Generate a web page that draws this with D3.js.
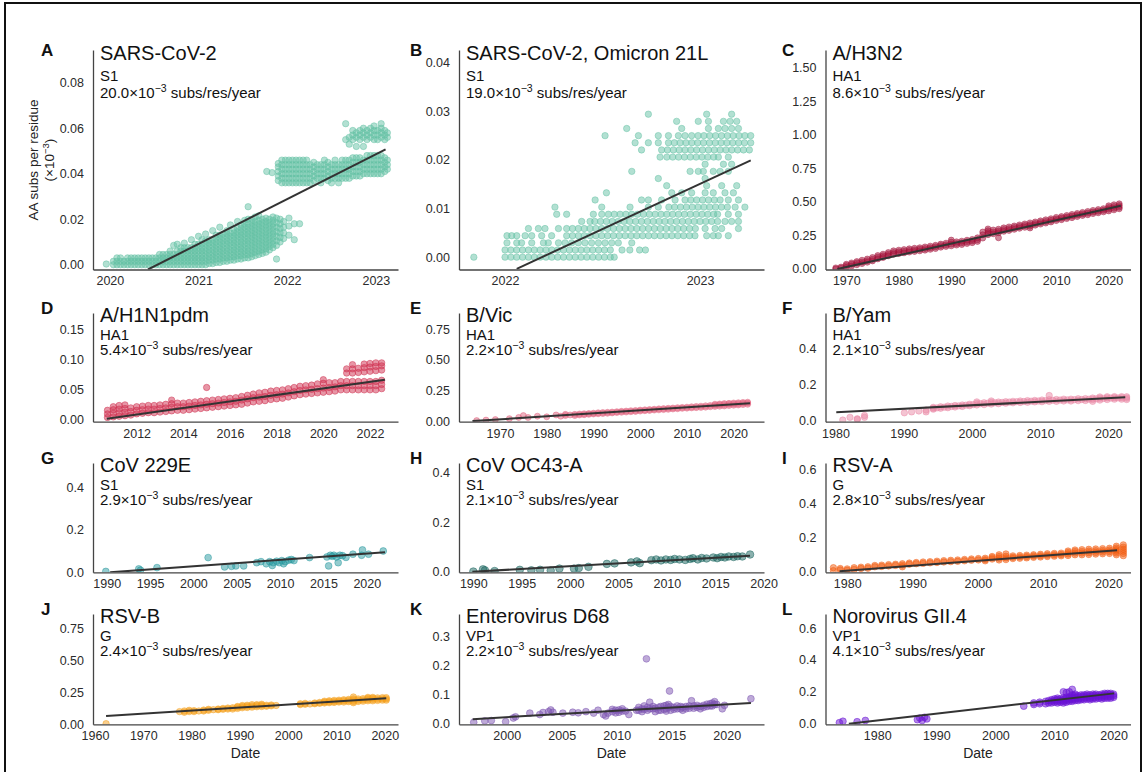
<!DOCTYPE html>
<html>
<head>
<meta charset="utf-8">
<script src="https://cdn.jsdelivr.net/npm/d3@7"></script>
<style>
  body { margin: 0; background: #fff; }
  svg text { font-family: "Liberation Sans", Arial, sans-serif; }
  .axis path { stroke: #444; stroke-width: 1.3; }
  .axis text { fill: #2b2b2b; }
</style>
</head>
<body>
<div id="chart"></div>
<script>
const width = 1147;
const height = 772;

// ---- data ----
// columns: [date, value, value, ...]
const aPts = [
  [2019.96,0.0003],[2020.04,0,0.0015],[2020.08,0,0.0015,0.003],[2020.12,0,0.0015,0.003],[2020.16,0,0.0015],
  [2020.2,0,0.0015,0.003],[2020.24,0,0.0015,0.003],[2020.28,0,0.0015,0.003],[2020.32,0,0.0015,0.003],
  [2020.36,0,0.0015,0.003],[2020.4,0,0.0015,0.003],[2020.44,0,0.0015,0.003],[2020.48,0,0.0015,0.003],
  [2020.52,0,0.0015,0.003],[2020.56,0,0.0015,0.003,0.0045],[2020.6,0,0.0015,0.003,0.0045],
  [2020.64,0,0.0015,0.003,0.0045],[2020.68,0,0.0015,0.003,0.0045,0.006],[2020.72,0,0.0015,0.003,0.0045,0.0085],
  [2020.76,0,0.0015,0.003,0.0045,0.006,0.009],[2020.8,0,0.0015,0.003,0.0045,0.006,0.0075],
  [2020.84,0,0.0015,0.003,0.0045,0.006,0.0075,0.0095],[2020.88,0,0.0015,0.003,0.0045,0.006,0.0075],
  [2020.92,0,0.0015,0.003,0.0045,0.006,0.0075,0.011],[2020.96,0,0.0015,0.003,0.0045,0.006,0.0075,0.009],
  [2021.0,0,0.0015,0.003,0.0045,0.006,0.0075,0.009,0.0125],[2021.04,0,0.0015,0.003,0.0045,0.006,0.0075,0.009,0.011],
  [2021.08,0,0.0015,0.003,0.0045,0.006,0.0075,0.009,0.0105,0.0135],
  [2021.12,0.0005,0.002,0.0035,0.005,0.0065,0.008,0.0095,0.011],
  [2021.16,0.0005,0.002,0.0035,0.005,0.0065,0.008,0.0095,0.011,0.015],
  [2021.2,0.001,0.0025,0.004,0.0055,0.007,0.0085,0.01,0.0115,0.013],
  [2021.24,0.001,0.0025,0.004,0.0055,0.007,0.0085,0.01,0.0115,0.013,0.0165],
  [2021.28,0.0015,0.003,0.0045,0.006,0.0075,0.009,0.0105,0.012,0.0135],
  [2021.32,0.0015,0.003,0.0045,0.006,0.0075,0.009,0.0105,0.012,0.0135,0.015],
  [2021.36,0.002,0.0035,0.005,0.0065,0.008,0.0095,0.011,0.0125,0.014,0.0175],
  [2021.4,0.002,0.0035,0.005,0.0065,0.008,0.0095,0.011,0.0125,0.014,0.0155],
  [2021.44,0.0025,0.004,0.0055,0.007,0.0085,0.01,0.0115,0.013,0.0145,0.016,0.019],
  [2021.48,0.0025,0.004,0.0055,0.007,0.0085,0.01,0.0115,0.013,0.0145,0.016,0.0175],
  [2021.52,0.003,0.0045,0.006,0.0075,0.009,0.0105,0.012,0.0135,0.015,0.0165,0.018,0.0195],
  [2021.56,0.003,0.0045,0.006,0.0075,0.009,0.0105,0.012,0.0135,0.015,0.0165,0.018,0.02,0.0255],
  [2021.6,0.0035,0.005,0.0065,0.008,0.0095,0.011,0.0125,0.014,0.0155,0.017,0.0185,0.02],
  [2021.64,0.004,0.0055,0.007,0.0085,0.01,0.0115,0.013,0.0145,0.016,0.0175,0.019,0.021],
  [2021.68,0.0045,0.006,0.0075,0.009,0.0105,0.012,0.0135,0.015,0.0165,0.018,0.0195,0.0215],
  [2021.72,0.005,0.0065,0.008,0.0095,0.011,0.0125,0.014,0.0155,0.017,0.0185,0.02],
  [2021.76,0.0055,0.007,0.0085,0.01,0.0115,0.013,0.0145,0.016,0.0175,0.019,0.0205],
  [2021.8,0.0065,0.008,0.0095,0.011,0.0125,0.014,0.0155,0.017,0.0185,0.02],
  [2021.84,0.0075,0.009,0.0105,0.012,0.0135,0.015,0.0165,0.018,0.0195,0.021],
  [2021.88,0.0025,0.0085,0.0105,0.0125,0.0145,0.0165,0.0185,0.0205],
  [2021.92,0.01,0.012,0.014,0.016,0.018,0.02],[2021.96,0.0115,0.014,0.0165,0.019],
  [2022.02,0.013,0.017,0.0205],[2022.08,0.011,0.018],[2022.14,0.018],
  [2021.77,0.041],[2021.83,0.0405],
  [2021.9,0.037,0.039,0.041,0.043,0.0445],[2021.94,0.036,0.038,0.04,0.042,0.044,0.046],
  [2021.98,0.036,0.038,0.04,0.042,0.044,0.046],[2022.02,0.036,0.038,0.04,0.042,0.044,0.046],
  [2022.06,0.036,0.038,0.04,0.042,0.044,0.046],[2022.1,0.036,0.038,0.04,0.042,0.044,0.046],
  [2022.14,0.036,0.038,0.04,0.042,0.044,0.046],[2022.18,0.036,0.038,0.04,0.042,0.044,0.046],
  [2022.22,0.036,0.038,0.04,0.042,0.044,0.046],[2022.26,0.036,0.038,0.04,0.042,0.044],
  [2022.3,0.037,0.039,0.041,0.043,0.045],[2022.34,0.038,0.04,0.042,0.044],
  [2022.38,0.036,0.038,0.04,0.042,0.044],[2022.42,0.038,0.04,0.042,0.044,0.046],
  [2022.46,0.037,0.039,0.041,0.043,0.045],[2022.5,0.036,0.038,0.04,0.042,0.044],
  [2022.54,0.038,0.04,0.042,0.044,0.046],[2022.58,0.036,0.038,0.04,0.042,0.044],
  [2022.62,0.038,0.04,0.042,0.044,0.046],[2022.66,0.038,0.04,0.042,0.044,0.046,0.055,0.062],
  [2022.7,0.038,0.04,0.042,0.044,0.046,0.053,0.056],[2022.74,0.039,0.041,0.043,0.045,0.047,0.055,0.057,0.059],
  [2022.78,0.039,0.041,0.043,0.045,0.047,0.052,0.056,0.058],[2022.82,0.039,0.041,0.043,0.045,0.047,0.055,0.057,0.059],
  [2022.86,0.04,0.042,0.044,0.046,0.052,0.056,0.058,0.06],[2022.9,0.04,0.042,0.044,0.046,0.048,0.055,0.057,0.059],
  [2022.94,0.04,0.042,0.044,0.046,0.048,0.056,0.058,0.06],[2022.98,0.04,0.042,0.044,0.046,0.048,0.055,0.057,0.059,0.061],
  [2023.02,0.04,0.042,0.044,0.046,0.048,0.055,0.057,0.059],[2023.06,0.04,0.042,0.044,0.046,0.048,0.056,0.058,0.06,0.062],
  [2023.1,0.041,0.043,0.045,0.047,0.055,0.057,0.059],[2023.13,0.042,0.044,0.046,0.056,0.058]
];
// rows: [value, date, date, ...]
const bRows = [
  [0,2021.84,2022.0,2022.03,2022.06,2022.09,2022.12,2022.15,2022.18,2022.21,2022.24,2022.27,2022.3,2022.33,2022.36,2022.39,2022.42,2022.45,2022.48,2022.51,2022.54,2022.56],
  [0.00147,2022.0,2022.03,2022.06,2022.09,2022.12,2022.15,2022.18,2022.21,2022.24,2022.27,2022.3,2022.33,2022.36,2022.39,2022.42,2022.45,2022.48,2022.51,2022.54,2022.6,2022.64,2022.69,2022.72],
  [0.00294,2022.01,2022.06,2022.085,2022.137,2022.197,2022.222,2022.274,2022.308,2022.342,2022.376,2022.41,2022.444,2022.479,2022.513,2022.547,2022.581,2022.65],
  [0.00441,2022.01,2022.034,2022.06,2022.103,2022.137,2022.188,2022.239,2022.316,2022.346,2022.376,2022.406,2022.436,2022.466,2022.496,2022.526,2022.556,2022.586,2022.616,2022.646,2022.676,2022.706,2022.736,2022.766,2022.796,2022.826,2022.856,2022.886,2022.916,2022.946,2022.974,2023.034,2023.068,2023.094,2023.145],
  [0.00588,2022.12,2022.171,2022.205,2022.274,2022.316,2022.346,2022.376,2022.406,2022.436,2022.466,2022.496,2022.526,2022.556,2022.586,2022.616,2022.646,2022.676,2022.706,2022.736,2022.766,2022.796,2022.826,2022.856,2022.886,2022.916,2022.946,2022.976,2023.026,2023.077,2023.111,2023.197],
  [0.00735,2022.393,2022.436,2022.46,2022.49,2022.52,2022.55,2022.58,2022.61,2022.64,2022.67,2022.7,2022.73,2022.76,2022.79,2022.82,2022.85,2022.88,2022.91,2022.94,2022.97,2023.0,2023.03,2023.06,2023.09,2023.128,2023.162,2023.197],
  [0.00882,2022.265,2022.316,2022.453,2022.496,2022.53,2022.56,2022.59,2022.62,2022.65,2022.68,2022.71,2022.74,2022.77,2022.8,2022.83,2022.86,2022.89,2022.92,2022.95,2022.98,2023.01,2023.04,2023.07,2023.09,2023.145,2023.197],
  [0.01029,2022.256,2022.496,2022.641,2022.735,2022.786,2022.84,2022.87,2022.9,2022.93,2022.96,2022.99,2023.02,2023.05,2023.08,2023.11,2023.14,2023.18,2023.23],
  [0.01176,2022.462,2022.7,2022.735,2022.803,2022.872,2022.923,2022.953,2022.983,2023.013,2023.043,2023.073,2023.103,2023.145,2023.197],
  [0.01323,2022.52,2022.855,2022.906,2022.957,2023.026,2023.068,2023.128,2023.171],
  [0.0147,2022.829,2023.034,2023.111,2023.188],
  [0.01617,2022.786,2023.026],
  [0.01764,2022.65,2022.949,2022.991,2023.017,2023.068,2023.103,2023.145],
  [0.01911,2023.026,2023.12,2023.162],
  [0.02058,2022.795,2022.83,2022.86,2022.89,2022.92,2022.95,2022.98,2023.01,2023.04,2023.07,2023.094,2023.145],
  [0.02205,2022.7,2022.803,2022.833,2022.863,2022.893,2022.923,2022.953,2022.983,2023.013,2023.043,2023.073,2023.103,2023.133,2023.163,2023.193,2023.223,2023.253],
  [0.02352,2022.667,2022.735,2022.786,2022.838,2022.868,2022.898,2022.928,2022.958,2022.988,2023.018,2023.048,2023.078,2023.108,2023.138,2023.168,2023.198,2023.228,2023.26],
  [0.02499,2022.513,2022.684,2022.786,2022.838,2022.889,2022.923,2022.957,2022.99,2023.02,2023.05,2023.08,2023.11,2023.14,2023.17,2023.2,2023.23,2023.26],
  [0.02646,2022.624,2022.906,2023.043,2023.094,2023.128,2023.162,2023.197],
  [0.02793,2022.88,2022.991,2023.043,2023.12,2023.154,2023.188],
  [0.0294,2022.735,2023.034,2023.162]
];
const cPts = [
  [1968,0.0,0.008],[1969,0.005,0.014],[1970,0.012,0.025,0.035],[1971,0.022,0.035,0.045],[1972,0.032,0.045,0.055],
  [1973,0.04,0.052,0.065],[1974,0.05,0.062,0.074],[1975,0.06,0.072,0.085],[1976,0.075,0.088,0.1],[1977,0.085,0.098,0.11],
  [1978,0.098,0.11,0.122],[1979,0.11,0.122,0.135],[1980,0.115,0.128,0.14],[1981,0.12,0.132,0.144],[1982,0.126,0.138,0.15],
  [1983,0.13,0.142,0.154],[1984,0.135,0.147,0.158],[1985,0.14,0.152,0.164],[1986,0.146,0.158,0.17],[1987,0.152,0.165,0.176],
  [1988,0.162,0.174,0.185],[1989,0.168,0.18,0.192],[1990,0.172,0.185,0.2,0.215],[1991,0.178,0.19,0.202],[1992,0.182,0.195,0.207],
  [1993,0.19,0.202,0.214],[1994,0.196,0.208,0.22],[1995,0.205,0.218,0.232],[1996,0.23,0.255,0.275],[1997,0.255,0.27,0.285,0.298],
  [1998,0.262,0.276,0.29],[1999,0.27,0.283,0.296,0.232],[2000,0.28,0.293,0.306],[2001,0.287,0.3,0.313],[2002,0.295,0.308,0.32],
  [2003,0.303,0.316,0.328],[2004,0.31,0.323,0.335],[2005,0.318,0.33,0.343,0.305],[2006,0.326,0.338,0.35],[2007,0.334,0.346,0.358],
  [2008,0.342,0.354,0.366],[2009,0.35,0.362,0.374],[2010,0.36,0.372,0.384],[2011,0.367,0.379,0.39],[2012,0.375,0.386,0.398],
  [2013,0.382,0.394,0.406],[2014,0.39,0.402,0.413],[2015,0.398,0.41,0.421],[2016,0.404,0.416,0.428],[2017,0.412,0.424,0.436],
  [2018,0.418,0.43,0.442],[2019,0.425,0.437,0.449],[2020,0.432,0.445,0.457,0.47],[2021,0.44,0.452,0.465,0.478],[2022,0.448,0.46,0.472,0.485]
];
const dPts = [
  [2010.75,0.004,0.01,0.016],[2011.0,0.005,0.011,0.017,0.022],[2011.25,0.006,0.012,0.018,0.024],[2011.5,0.007,0.013,0.019,0.025],
  [2011.75,0.008,0.014,0.02],[2012.0,0.01,0.016,0.022],[2012.25,0.011,0.017,0.023],[2012.5,0.012,0.018,0.024],
  [2012.75,0.012,0.018,0.024],[2013.0,0.013,0.019,0.025],[2013.25,0.014,0.02,0.026],[2013.5,0.015,0.021,0.027,0.033],
  [2013.75,0.016,0.022,0.028],[2014.0,0.016,0.022,0.028],[2014.25,0.017,0.023,0.029],[2014.5,0.018,0.024,0.03],
  [2014.75,0.019,0.025,0.031],[2015.0,0.02,0.026,0.032,0.054],[2015.25,0.021,0.027,0.033],[2015.5,0.022,0.028,0.034],
  [2015.75,0.023,0.029,0.035],[2016.0,0.024,0.03,0.036],[2016.25,0.025,0.031,0.037],[2016.5,0.026,0.033,0.039],
  [2016.75,0.028,0.035,0.041],[2017.0,0.03,0.037,0.043],[2017.25,0.031,0.038,0.045],[2017.5,0.032,0.039,0.046],
  [2017.75,0.034,0.041,0.048],[2018.0,0.035,0.042,0.049],[2018.25,0.036,0.043,0.05],[2018.5,0.038,0.045,0.052],
  [2018.75,0.04,0.047,0.054],[2019.0,0.042,0.049,0.056],[2019.25,0.043,0.05,0.057],[2019.5,0.044,0.051,0.058],
  [2019.75,0.045,0.052,0.06],[2020.0,0.046,0.053,0.061,0.067],[2020.25,0.047,0.054,0.062],[2020.5,0.048,0.055,0.062],
  [2020.75,0.05,0.057,0.064],[2021.0,0.05,0.057,0.064,0.078,0.085],[2021.25,0.05,0.057,0.064,0.078,0.085,0.092],
  [2021.5,0.05,0.057,0.064,0.079,0.086],[2021.75,0.05,0.057,0.064,0.08,0.087,0.093],[2022.0,0.05,0.057,0.064,0.081,0.088,0.094],
  [2022.25,0.05,0.057,0.064,0.082,0.089,0.095],[2022.5,0.052,0.059,0.066,0.083,0.09,0.095]
];
const ePts = [
  [1965,0.004],[1967,0.008],[1969,0.012],[1972,0.02],[1974,0.03],[1975,0.045],[1976,0.03],[1978,0.04],[1980,0.035],
  [1982,0.05],[1983,0.04],[1984,0.055,0.045],[1985,0.05],[1986,0.055,0.045],[1987,0.058,0.05],[1988,0.06,0.052],
  [1989,0.062,0.055],[1990,0.065,0.058],[1991,0.068,0.06],[1992,0.07,0.062],[1993,0.072,0.064],[1994,0.074,0.067],
  [1995,0.077,0.07],[1996,0.08,0.072],[1997,0.082,0.074],[1998,0.085,0.077],[1999,0.087,0.079],[2000,0.09,0.082],
  [2001,0.092,0.085],[2002,0.095,0.087],[2003,0.097,0.09],[2004,0.1,0.092],[2005,0.102,0.094],[2006,0.105,0.096],
  [2007,0.107,0.099],[2008,0.11,0.101],[2009,0.112,0.104],[2010,0.114,0.106],[2011,0.117,0.108],[2012,0.12,0.11],
  [2013,0.122,0.112],[2014,0.125,0.114],[2015,0.128,0.117],[2016,0.13,0.12,0.138],[2017,0.133,0.122,0.14],
  [2018,0.135,0.124,0.143],[2019,0.138,0.127,0.145],[2020,0.14,0.13,0.148],[2021,0.142,0.132,0.15],
  [2022,0.145,0.135,0.153],[2023,0.147,0.137,0.155]
];
const fPts = [
  [1981.06,0.005],[1982.12,0.02],[1983.19,0.012,0.008],[1984.25,0.02,0.03],[1990.09,0.045],[1991.15,0.05],[1992.21,0.055],
  [1993.27,0.06,0.05],[1994.33,0.065,0.075,0.07],[1994.87,0.072],[1995.4,0.07,0.078],[1995.93,0.076],[1996.46,0.073,0.082],
  [1996.99,0.08],[1997.52,0.077,0.085],[1998.05,0.083],[1998.58,0.08,0.088],[1999.11,0.087],[1999.64,0.084,0.092],[2000.17,0.09],
  [2000.71,0.088,0.097,0.105],[2001.24,0.095],[2001.77,0.09,0.1],[2002.3,0.098],[2002.83,0.093,0.102,0.11],[2003.36,0.1],
  [2003.89,0.095,0.104],[2004.42,0.102],[2004.95,0.098,0.106],[2005.48,0.104],[2006.01,0.1,0.108],[2006.55,0.106],
  [2007.08,0.102,0.11],[2007.61,0.107],[2008.14,0.103,0.112],[2008.67,0.109],[2009.2,0.105,0.113],[2009.73,0.11],
  [2010.26,0.106,0.115],[2010.79,0.112],[2011.32,0.108,0.117,0.14],[2011.85,0.114],[2012.38,0.108,0.118],[2012.92,0.115],
  [2013.45,0.11,0.12],[2013.98,0.116],[2014.51,0.11,0.12],[2015.04,0.117],[2015.57,0.112,0.122],[2016.1,0.118],
  [2016.63,0.113,0.123],[2017.16,0.12],[2017.69,0.108,0.118,0.126],[2018.22,0.122],[2018.75,0.115,0.125,0.132],
  [2019.29,0.124],[2019.82,0.118,0.127,0.133],[2020.35,0.126],[2020.88,0.12,0.128,0.134],[2021.41,0.127],
  [2021.94,0.12,0.128,0.134],[2022.68,0.118,0.126,0.133]
];
const gPts = [
  [1989.9,0.004],[1993.7,0.016],[1993.9,0.01],[1995.8,0.022],[2001.7,0.069],[2003.6,0.025],[2004.4,0.028],
  [2004.9,0.03],[2005.8,0.03],[2007.3,0.045],[2007.8,0.05],[2008.4,0.04],[2008.8,0.05],[2009.1,0.032],
  [2009.2,0.045],[2009.6,0.052],[2009.9,0.045],[2010.2,0.055],[2010.4,0.04],[2010.6,0.05],[2011.0,0.057],
  [2011.3,0.06],[2011.6,0.055],[2013.4,0.069],[2015.4,0.072],[2015.6,0.03],[2015.8,0.08],[2016.0,0.075],
  [2016.2,0.08],[2016.5,0.072],[2016.7,0.045],[2016.9,0.08],[2017.2,0.078],[2017.6,0.07],[2018.4,0.085],
  [2019.4,0.08],[2019.5,0.105],[2020.2,0.085],[2021.9,0.1]
];
const hPts = [
  [1990.0,0.001],[1991.0,0.01],[1991.2,0.006],[1992.2,0.003],[1994.8,0.008],[1996.0,0.006],[1996.9,0.008],
  [1998.0,0.005],[1998.9,0.013],[2000.4,0.013],[2000.9,0.015],[2001.9,0.02],[2003.8,0.032],[2004.6,0.034],
  [2006.3,0.038],[2006.9,0.042],[2007.2,0.035],[2008.4,0.047],[2008.9,0.05],[2009.4,0.046],[2009.9,0.05],
  [2010.4,0.048],[2010.8,0.052],[2011.3,0.05],[2011.9,0.048],[2012.4,0.052],[2012.7,0.055],[2013.2,0.05],
  [2013.6,0.056],[2014.1,0.054],[2014.8,0.058],[2015.2,0.055],[2015.6,0.06],[2016.0,0.058],[2016.4,0.062],
  [2016.9,0.06],[2017.3,0.063],[2017.8,0.062],[2018.6,0.07]
];
const iPts = [
  [1977.89,0.025,0.008],[1978.94,0.012,0.02],[1980.0,0.01,0.018],[1981.06,0.015,0.025],[1982.11,0.02,0.028],[1983.17,0.022,0.03],
  [1984.23,0.03,0.038],[1985.28,0.032,0.04],[1986.34,0.035,0.043],[1987.4,0.038,0.045],[1988.45,0.04,0.048,0.03],[1989.51,0.045,0.052],
  [1990.57,0.048,0.055],[1991.62,0.05,0.058],[1992.68,0.053,0.06],[1993.74,0.055,0.063],[1994.79,0.058,0.066],[1995.85,0.06,0.068],
  [1996.91,0.062,0.07],[1997.96,0.065,0.073],[1999.02,0.068,0.076],[2000.08,0.07,0.078],[2001.13,0.072,0.08,0.065],
  [2002.19,0.075,0.083,0.09],[2003.25,0.07,0.08,0.09,0.1],[2004.3,0.072,0.082,0.092,0.105],[2005.36,0.078,0.086,0.094],
  [2006.42,0.08,0.088,0.096],[2007.47,0.082,0.09,0.098],[2008.53,0.085,0.093,0.1],[2009.59,0.087,0.095,0.103],
  [2010.64,0.09,0.098,0.106],[2011.7,0.092,0.1,0.108],[2012.76,0.094,0.102,0.11],[2013.81,0.096,0.105,0.114,0.122],
  [2014.87,0.1,0.11,0.12,0.128],[2015.93,0.1,0.11,0.12,0.13],[2016.98,0.102,0.112,0.122,0.132],[2018.04,0.104,0.114,0.124,0.134],
  [2019.1,0.106,0.116,0.126,0.136],[2020.15,0.108,0.118,0.128,0.138],[2021.21,0.1,0.11,0.12,0.13,0.14,0.15],
  [2022.27,0.095,0.108,0.12,0.132,0.145,0.158]
];
const jPts = [
  [1962.3,0.005],[1977.5,0.1],[1978.5,0.095,0.105],[1979.5,0.1,0.11],[1980.5,0.1,0.108],[1981.5,0.105],
  [1982.5,0.105,0.112],[1983.5,0.11,0.118],[1984.5,0.115],[1985.5,0.115,0.12],[1986.5,0.118,0.125],
  [1987.5,0.12,0.128],[1988.5,0.12,0.13],[1989.5,0.125,0.135,0.14],[1990.5,0.13,0.14,0.148],
  [1991.5,0.132,0.142,0.15],[1992.5,0.135,0.145,0.155],[1993.5,0.138,0.148,0.155],[1994.5,0.14,0.15,0.158],
  [1995.5,0.142,0.15],[1996.5,0.145,0.152],[1997.5,0.148],[2002.5,0.155,0.162],[2003.5,0.158,0.165],
  [2004.5,0.16],[2005.5,0.162,0.168],[2006.5,0.165,0.172],[2007.5,0.168,0.175,0.182],[2008.5,0.17,0.178,0.185],
  [2009.5,0.172,0.18,0.188],[2010.5,0.175,0.182,0.19],[2011.5,0.175,0.185,0.193],[2012.5,0.178,0.188,0.196],
  [2013.5,0.17,0.18,0.19,0.2,0.215],[2014.5,0.18,0.19,0.2],[2015.5,0.182,0.192,0.202],
  [2016.5,0.185,0.195,0.205,0.212],[2017.5,0.185,0.195,0.205,0.212],[2018.5,0.188,0.198,0.208],
  [2019.5,0.19,0.2,0.21],[2020.3,0.19,0.2,0.21]
];
const kPts = [
  [1997.0,0.003],[1998.0,0.008],[1998.6,0.009],[1999.9,0.005],[2000.6,0.018],[2000.8,0.022],[2002.1,0.035],
  [2003.0,0.03],[2003.3,0.037],[2003.8,0.04],[2004.0,0.046],[2004.2,0.038],[2005.1,0.035],[2006.0,0.038],
  [2006.5,0.036],[2007.2,0.04],[2007.9,0.035],[2008.3,0.045],[2008.8,0.03],[2009.0,0.025],[2009.2,0.035],
  [2009.6,0.04,0.048],[2009.9,0.045,0.036],[2010.2,0.038,0.046],[2010.5,0.05,0.042],[2010.8,0.042],[2011.1,0.03],
  [2011.8,0.045],[2012.0,0.055,0.045],[2012.3,0.05,0.04],[2012.5,0.06,0.048],[2012.7,0.224],[2012.8,0.045,0.055],
  [2013.0,0.073,0.05],[2013.3,0.05,0.058],[2013.5,0.04,0.052],[2013.8,0.055,0.045],[2014.0,0.045,0.058],
  [2014.3,0.06,0.048],[2014.5,0.05,0.062,0.042],[2014.7,0.065,0.055],[2014.8,0.112],[2014.9,0.045,0.058],
  [2015.2,0.055,0.048],[2015.5,0.06,0.05],[2015.8,0.05,0.058],[2016.0,0.045,0.055],[2016.3,0.058,0.05],
  [2016.6,0.052,0.06],[2016.8,0.078],[2017.0,0.06,0.052],[2017.3,0.055,0.062],[2017.6,0.05,0.058],
  [2017.9,0.062,0.055],[2018.2,0.058,0.066],[2018.5,0.068,0.06],[2018.7,0.06,0.07],[2018.9,0.075,0.065],
  [2019.1,0.065],[2019.6,0.05],[2019.8,0.062],[2022.2,0.085]
];
const lPts = [
  [1973.6,0.006],[1974.2,0.015],[1976.6,0.012],[1978.0,0.02],[1986.8,0.025],[1987.2,0.035],[1987.6,0.02],
  [1988.0,0.04],[1988.4,0.03],[2004.8,0.11],
  [2006.5,0.12,0.13],[2007.5,0.125,0.135],[2008.5,0.125,0.14],[2009.0,0.13,0.145],[2009.5,0.13,0.14,0.15],
  [2010.0,0.135,0.145,0.155],[2010.5,0.13,0.14,0.15,0.16],[2011.0,0.135,0.145,0.155],[2011.5,0.13,0.14,0.15,0.16,0.2],
  [2012.0,0.135,0.145,0.155,0.165,0.195],[2012.5,0.14,0.15,0.16,0.17,0.2],[2013.0,0.14,0.15,0.16,0.17,0.18,0.215],
  [2013.5,0.145,0.155,0.165,0.175,0.185],[2014.0,0.145,0.155,0.165,0.175],[2014.5,0.15,0.16,0.17,0.18],
  [2015.0,0.15,0.16,0.17,0.18],[2015.5,0.155,0.165,0.175,0.185],[2016.0,0.15,0.16,0.17,0.18],
  [2016.5,0.155,0.165,0.175,0.185],[2017.0,0.155,0.165,0.175,0.185],[2017.5,0.16,0.17,0.18],
  [2018.0,0.155,0.165,0.175,0.185],[2018.5,0.16,0.17,0.18,0.19],[2019.0,0.16,0.17,0.18,0.19],
  [2019.5,0.16,0.17,0.18,0.19],[2020.0,0.165,0.175,0.185]
];

// fitted lines: two ends
const fits = {
  A: [[2020.43,-0.0021],[2023.11,0.0507]],
  B: [[2022.06,-0.0024],[2023.26,0.0199]],
  C: [[1968.3,0.0],[2022.3,0.47]],
  D: [[2010.72,0.002],[2022.64,0.0667]],
  E: [[1964.1,0.0],[2023.5,0.145]],
  F: [[1980.11,0.048],[2022.47,0.13]],
  G: [[1990.4,0.0],[2022.1,0.094]],
  H: [[1989.9,0.0],[2018.6,0.065]],
  I: [[1978.84,0.004],[2021.32,0.127]],
  J: [[1962.3,0.065],[2020.3,0.205]],
  K: [[1996.9,0.014],[2022.2,0.07]],
  L: [[1975.2,0.0],[2020.1,0.19]]
};

const titles = ["SARS-CoV-2","SARS-CoV-2, Omicron 21L","A/H3N2","A/H1N1pdm","B/Vic","B/Yam",
                "CoV 229E","CoV OC43-A","RSV-A","RSV-B","Enterovirus D68","Norovirus GII.4"];
const genes = ["S1","S1","HA1","HA1","HA1","HA1","S1","S1","G","G","VP1","VP1"];
const rates = ["20.0","19.0","8.6","5.4","2.2","2.1","2.9","2.1","2.8","2.4","2.2","4.1"];
const letters = ["A","B","C","D","E","F","G","H","I","J","K","L"];

const xTicks = [
  [2020,2021,2022,2023],[2022,2023],[1970,1980,1990,2000,2010,2020],
  [2012,2014,2016,2018,2020,2022],[1970,1980,1990,2000,2010,2020],[1980,1990,2000,2010,2020],
  [1990,1995,2000,2005,2010,2015,2020],[1990,1995,2000,2005,2010,2015,2020],[1980,1990,2000,2010,2020],
  [1960,1970,1980,1990,2000,2010,2020],[2000,2005,2010,2015,2020],[1980,1990,2000,2010,2020]
];
const yTicks = [
  [0,0.02,0.04,0.06,0.08],[0,0.01,0.02,0.03,0.04],[0,0.25,0.5,0.75,1,1.25,1.5],
  [0,0.05,0.1,0.15],[0,0.25,0.5,0.75],[0,0.2,0.4],
  [0,0.2,0.4],[0,0.2,0.4],[0,0.2,0.4,0.6],
  [0,0.25,0.5,0.75],[0,0.1,0.2,0.3],[0,0.2,0.4,0.6]
];
const yFormats = [".2f",".2f",".2f",".2f",".2f",".1f",".1f",".1f",".1f",".2f",".1f",".1f"];
const xDomains = [
  [2019.81,2023.25],[2021.764,2023.328],[1966.04,2024.15],
  [2010.13,2023.2],[1961.22,2026.5],[1978.53,2023.24],
  [1988.42,2023.6],[1988.52,2020.04],[1976.68,2023.37],
  [1959.59,2022.73],[1995.66,2023.39],[1971.25,2022.86]
];
const yDomains = [
  [-0.0021,0.0944],[-0.00254,0.0426],[-0.004,1.63],
  [-0.003,0.178],[-0.005,0.884],[-0.004,0.594],
  [0,0.513],[-0.002,0.44],[-0.002,0.635],
  [0,0.868],[-0.004,0.38],[-0.004,0.688]
];

// ---- styles / layout ----
const colors = ["#66c2a5","#66c2a5","#a3123a","#cf2e4e","#e2647f","#e98aa6",
                "#2a9aa0","#17645d","#f25c10","#f5a01c","#7d55b2","#6a12d4"];
const radius = [3.2,3.2,3,3.2,3,3.2,3.4,3.8,3.2,3.2,3.4,3.4];
const colLeft = [93, 459, 825.5];
const colW = 305;
const letterX = [41, 410, 782];
const rowTop = [50, 313, 463, 614];
const rowH = [219.5, 108.7, 109.3, 110.3];
const allPts = [aPts, null, cPts, dPts, ePts, fPts, gPts, hPts, iPts, jPts, kPts, lPts];

const svg = d3.select("#chart").append("svg")
  .attr("width", width).attr("height", height);

svg.append("rect").attr("x", 5).attr("y", 3).attr("width", 1136).attr("height", 780)
  .attr("fill", "none").attr("stroke", "#111").attr("stroke-width", 2);

letters.forEach((letter, i) => {
  const col = i % 3, row = Math.floor(i / 3);
  const L = colLeft[col], T = rowTop[row], W = colW, H = rowH[row];
  const xScale = d3.scaleLinear().domain(xDomains[i]).range([L, L + W]);
  const yScale = d3.scaleLinear().domain(yDomains[i]).range([T + H, T]);

  let pts;
  if (i === 1) pts = bRows.flatMap(r => r.slice(1).map(x => [x, r[0]]));
  else pts = allPts[i].flatMap(c => c.slice(1).map(v => [c[0], v]));

  svg.append("clipPath").attr("id", "clip" + letter)
    .append("rect").attr("x", L).attr("y", T).attr("width", W).attr("height", H);

  const g = svg.append("g");
  const plot = g.append("g").attr("clip-path", `url(#clip${letter})`);

  plot.selectAll("circle").data(pts).join("circle")
    .attr("cx", d => xScale(d[0]))
    .attr("cy", d => yScale(d[1]))
    .attr("r", radius[i])
    .attr("fill", colors[i]).attr("fill-opacity", 0.5)
    .attr("stroke", colors[i]).attr("stroke-opacity", 0.6).attr("stroke-width", 0.8);

  plot.append("path").datum(fits[letter])
    .attr("d", d3.line().x(d => xScale(d[0])).y(d => yScale(d[1])))
    .attr("fill", "none").attr("stroke", "#333").attr("stroke-width", 2);

  g.append("g").attr("class", "axis")
    .attr("transform", `translate(0,${T + H})`)
    .call(d3.axisBottom(xScale).tickValues(xTicks[i]).tickFormat(d3.format("d")).tickSize(0).tickPadding(7))
    .call(a => a.selectAll("text").attr("font-size", 12.5));

  g.append("g").attr("class", "axis")
    .attr("transform", `translate(${L},0)`)
    .call(d3.axisLeft(yScale).tickValues(yTicks[i]).tickFormat(d3.format(yFormats[i])).tickSize(0).tickPadding(9))
    .call(a => a.selectAll("text").attr("font-size", 12.5));

  g.selectAll(".axis").attr("font-family", null);

  // texts
  const off = row === 0 ? [10, 30.7, 48.3] : [8.5, 26.5, 41.7];
  g.append("text").attr("x", letterX[col]).attr("y", T + (row === 0 ? 5.5 : 0.5))
    .attr("font-size", 17).attr("font-weight", "bold").attr("fill", "#111").text(letter);
  g.append("text").attr("x", L + 7).attr("y", T + off[0])
    .attr("font-size", 20).attr("fill", "#111").text(titles[i]);
  g.append("text").attr("x", L + 7).attr("y", T + off[1])
    .attr("font-size", 15).attr("fill", "#111").text(genes[i]);
  const t = g.append("text").attr("x", L + 7).attr("y", T + off[2])
    .attr("font-size", 15).attr("fill", "#111");
  t.append("tspan").text(rates[i] + "×10");
  t.append("tspan").attr("dy", -6).attr("font-size", 10.5).text("−3");
  t.append("tspan").attr("dy", 6).text(" subs/res/year");

  if (row === 3) {
    g.append("text").attr("x", L + W / 2).attr("y", 757.5).attr("text-anchor", "middle")
      .attr("font-size", 14).attr("fill", "#222").text("Date");
  }
});

// y axis label of the first panel
const yl = svg.append("text").attr("transform", `translate(37.5,160) rotate(-90)`)
  .attr("text-anchor", "middle").attr("font-size", 13.5).attr("fill", "#222");
yl.append("tspan").attr("x", 0).attr("y", 0).text("AA subs per residue");
const yl2 = svg.append("text").attr("transform", `translate(54,160) rotate(-90)`)
  .attr("text-anchor", "middle").attr("font-size", 13.5).attr("fill", "#222");
yl2.append("tspan").text("(×10");
yl2.append("tspan").attr("dy", -5).attr("font-size", 9.5).text("−3");
yl2.append("tspan").attr("dy", 5).text(")");
</script>
</body>
</html>
